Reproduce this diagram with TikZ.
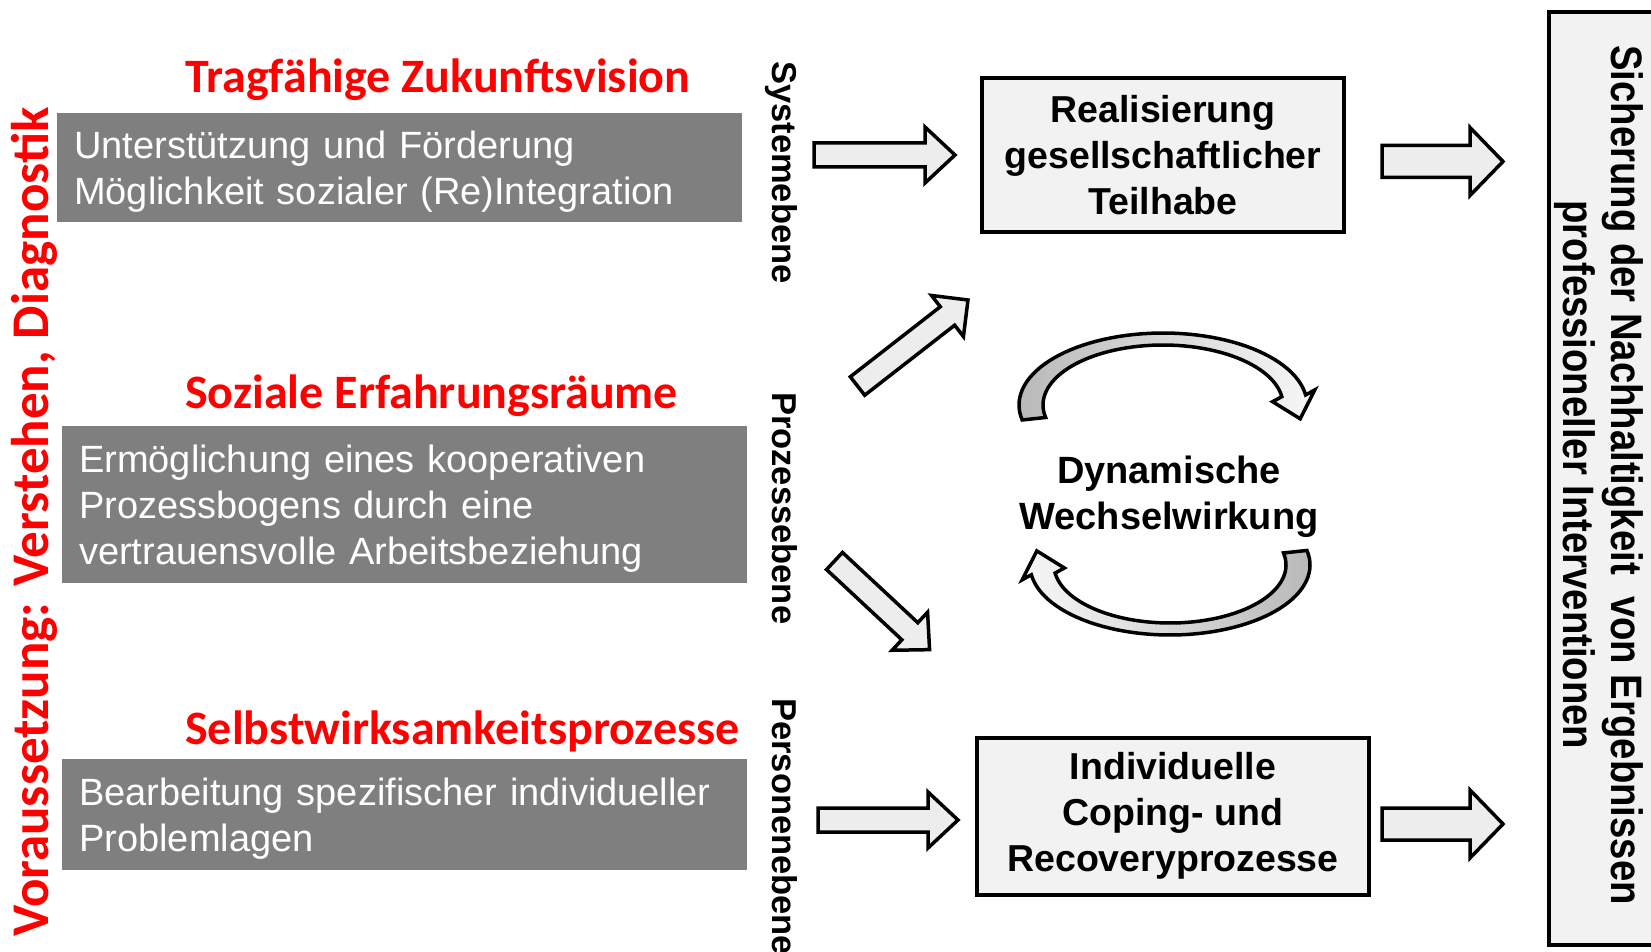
\documentclass[tikz,border=0pt]{standalone}
\usepackage{fontspec}
\setmainfont{Liberation Sans}
\newfontfamily\calfont{Carlito}
\newfontfamily\narrowfont{Liberation Sans}[FakeStretch=0.87]
\usetikzlibrary{calc}
\definecolor{redtxt}{HTML}{FF0000}
\definecolor{boxgray}{HTML}{7F7F7F}
\definecolor{lightfill}{HTML}{F2F2F2}
\definecolor{arrowfill}{HTML}{EDEDED}
\tikzset{
  heading/.style={font=\calfont\bfseries\fontsize{48}{56}\selectfont, text=redtxt, inner sep=0pt, anchor=base west},
  graybox/.style={fill=boxgray, draw=none, text=white, font=\fontsize{38}{46}\selectfont,
    align=left, text width=651pt, inner xsep=17pt, inner ysep=0pt, anchor=north west,
    execute at begin node={\rule{0pt}{36pt}}},
  resultbox/.style={draw=black, line width=4pt, fill=lightfill, font=\bfseries\fontsize{37.5}{46}\selectfont,
    align=center, inner sep=0pt},
  levellabel/.style={font=\bfseries\fontsize{34.5}{40}\selectfont, rotate=-90, anchor=base west, inner sep=0pt},
  hollow/.style={draw=black, line width=3.5pt, fill=arrowfill, line join=miter},
  curvearrow/.style={draw=black, line width=3.5pt, line join=miter},
}
\newcommand\blockarrow[7]{%
  \begin{scope}[shift={(#1,#2)}, rotate=#3]
    \draw[hollow] (0,-#5) -- ({#4-#7},-#5) -- ({#4-#7},-#6) -- (#4,0) -- ({#4-#7},#6) -- ({#4-#7},#5) -- (0,#5) -- cycle;
  \end{scope}}
\begin{document}
\begin{tikzpicture}[x=1pt,y=-1pt]
\fill[white] (0,0) rectangle (1651,952);
\useasboundingbox (0,0) rectangle (1651,952);

% left vertical red label
\node[font=\calfont\bfseries\fontsize{53}{60}\selectfont, text=redtxt, rotate=90, anchor=base west, inner sep=0pt]
  (prereq) at (48,937) {Voraussetzung: Verstehen, Diagnostik};

% headings
\node[heading] (h1) at (185,93) {Tragfähige Zukunftsvision};
\node[heading] (h2) at (185,408) {Soziale Erfahrungsräume};
\node[heading] (h3) at (185,744) {Selbstwirksamkeitsprozesse};

% gray boxes
\node[graybox, minimum height=109pt] (g1) at (57,113)
  {Unterstützung und Förderung\\Möglichkeit sozialer (Re)Integration};
\node[graybox, minimum height=157pt] (g2) at (62,426)
  {Ermöglichung eines kooperativen\\Prozessbogens durch eine\\vertrauensvolle Arbeitsbeziehung};
\node[graybox, minimum height=111pt] (g3) at (62,759)
  {Bearbeitung spezifischer individueller\\Problemlagen};

% level labels
\node[levellabel] (sys) at (772,61) {Systemebene};
\node[levellabel] (proz) at (772,392) {Prozessebene};
\node[levellabel] (pers) at (772,698) {Personenebene};

% result boxes
\node[resultbox, minimum width=362pt, minimum height=154pt] (real) at (1163,155)
  {Realisierung\\gesellschaftlicher\\Teilhabe};
\node[resultbox, minimum width=392pt, minimum height=157pt] (indiv) at (1173,816)
  {Individuelle\\Coping- und\\Recoveryprozesse};

% dynamic interaction text
\node[font=\bfseries\fontsize{38}{46}\selectfont, align=center, inner sep=0pt] (dyn) at (1169,497)
  {Dynamische\\Wechselwirkung};

% tall right box
\node[draw=black, line width=4pt, fill=lightfill, minimum width=130pt, minimum height=933pt,
  anchor=north west, inner sep=0pt] (sust) at (1547,10) {};
\node[font=\narrowfont\bfseries\fontsize{44}{48}\selectfont, rotate=-90, align=center, inner sep=0pt]
  (susttext) at (1599,475) {Sicherung der Nachhaltigkeit\ \ von Ergebnissen\\professioneller Interventionen};

% block arrows
\blockarrow{814}{155}{0}{141}{12}{28}{30}
\blockarrow{818}{820}{0}{140}{12}{28}{30}
\blockarrow{1382}{161.5}{0}{121}{16}{34}{33}
\blockarrow{1382}{824}{0}{121}{16}{34}{33}
\blockarrow{857.5}{386}{37.9}{140}{11.7}{26}{26}
\blockarrow{834.5}{561}{-43}{130}{11.7}{26}{27}

% curved arrows
\draw[curvearrow, left color=gray!55, right color=gray!6]
  plot[domain=168:352, samples=60] ({1163+144*cos(\x)},{405+72*sin(\x)})
  -- (1314.8,389.9) -- (1300.2,418.8) -- (1272.6,401.7)
  -- plot[domain=352:168, samples=60] ({1163+120*cos(\x)},{405+60*sin(\x)}) -- cycle;
\draw[curvearrow, left color=gray!6, right color=gray!55]
  plot[domain=-12:172, samples=60] ({1170+140*cos(\x)},{565+70*sin(\x)})
  -- (1022.2,579.8) -- (1036.8,550.9) -- (1064.4,568)
  -- plot[domain=172:-12, samples=60] ({1170+116*cos(\x)},{565+58*sin(\x)}) -- cycle;
\end{tikzpicture}
\end{document}
